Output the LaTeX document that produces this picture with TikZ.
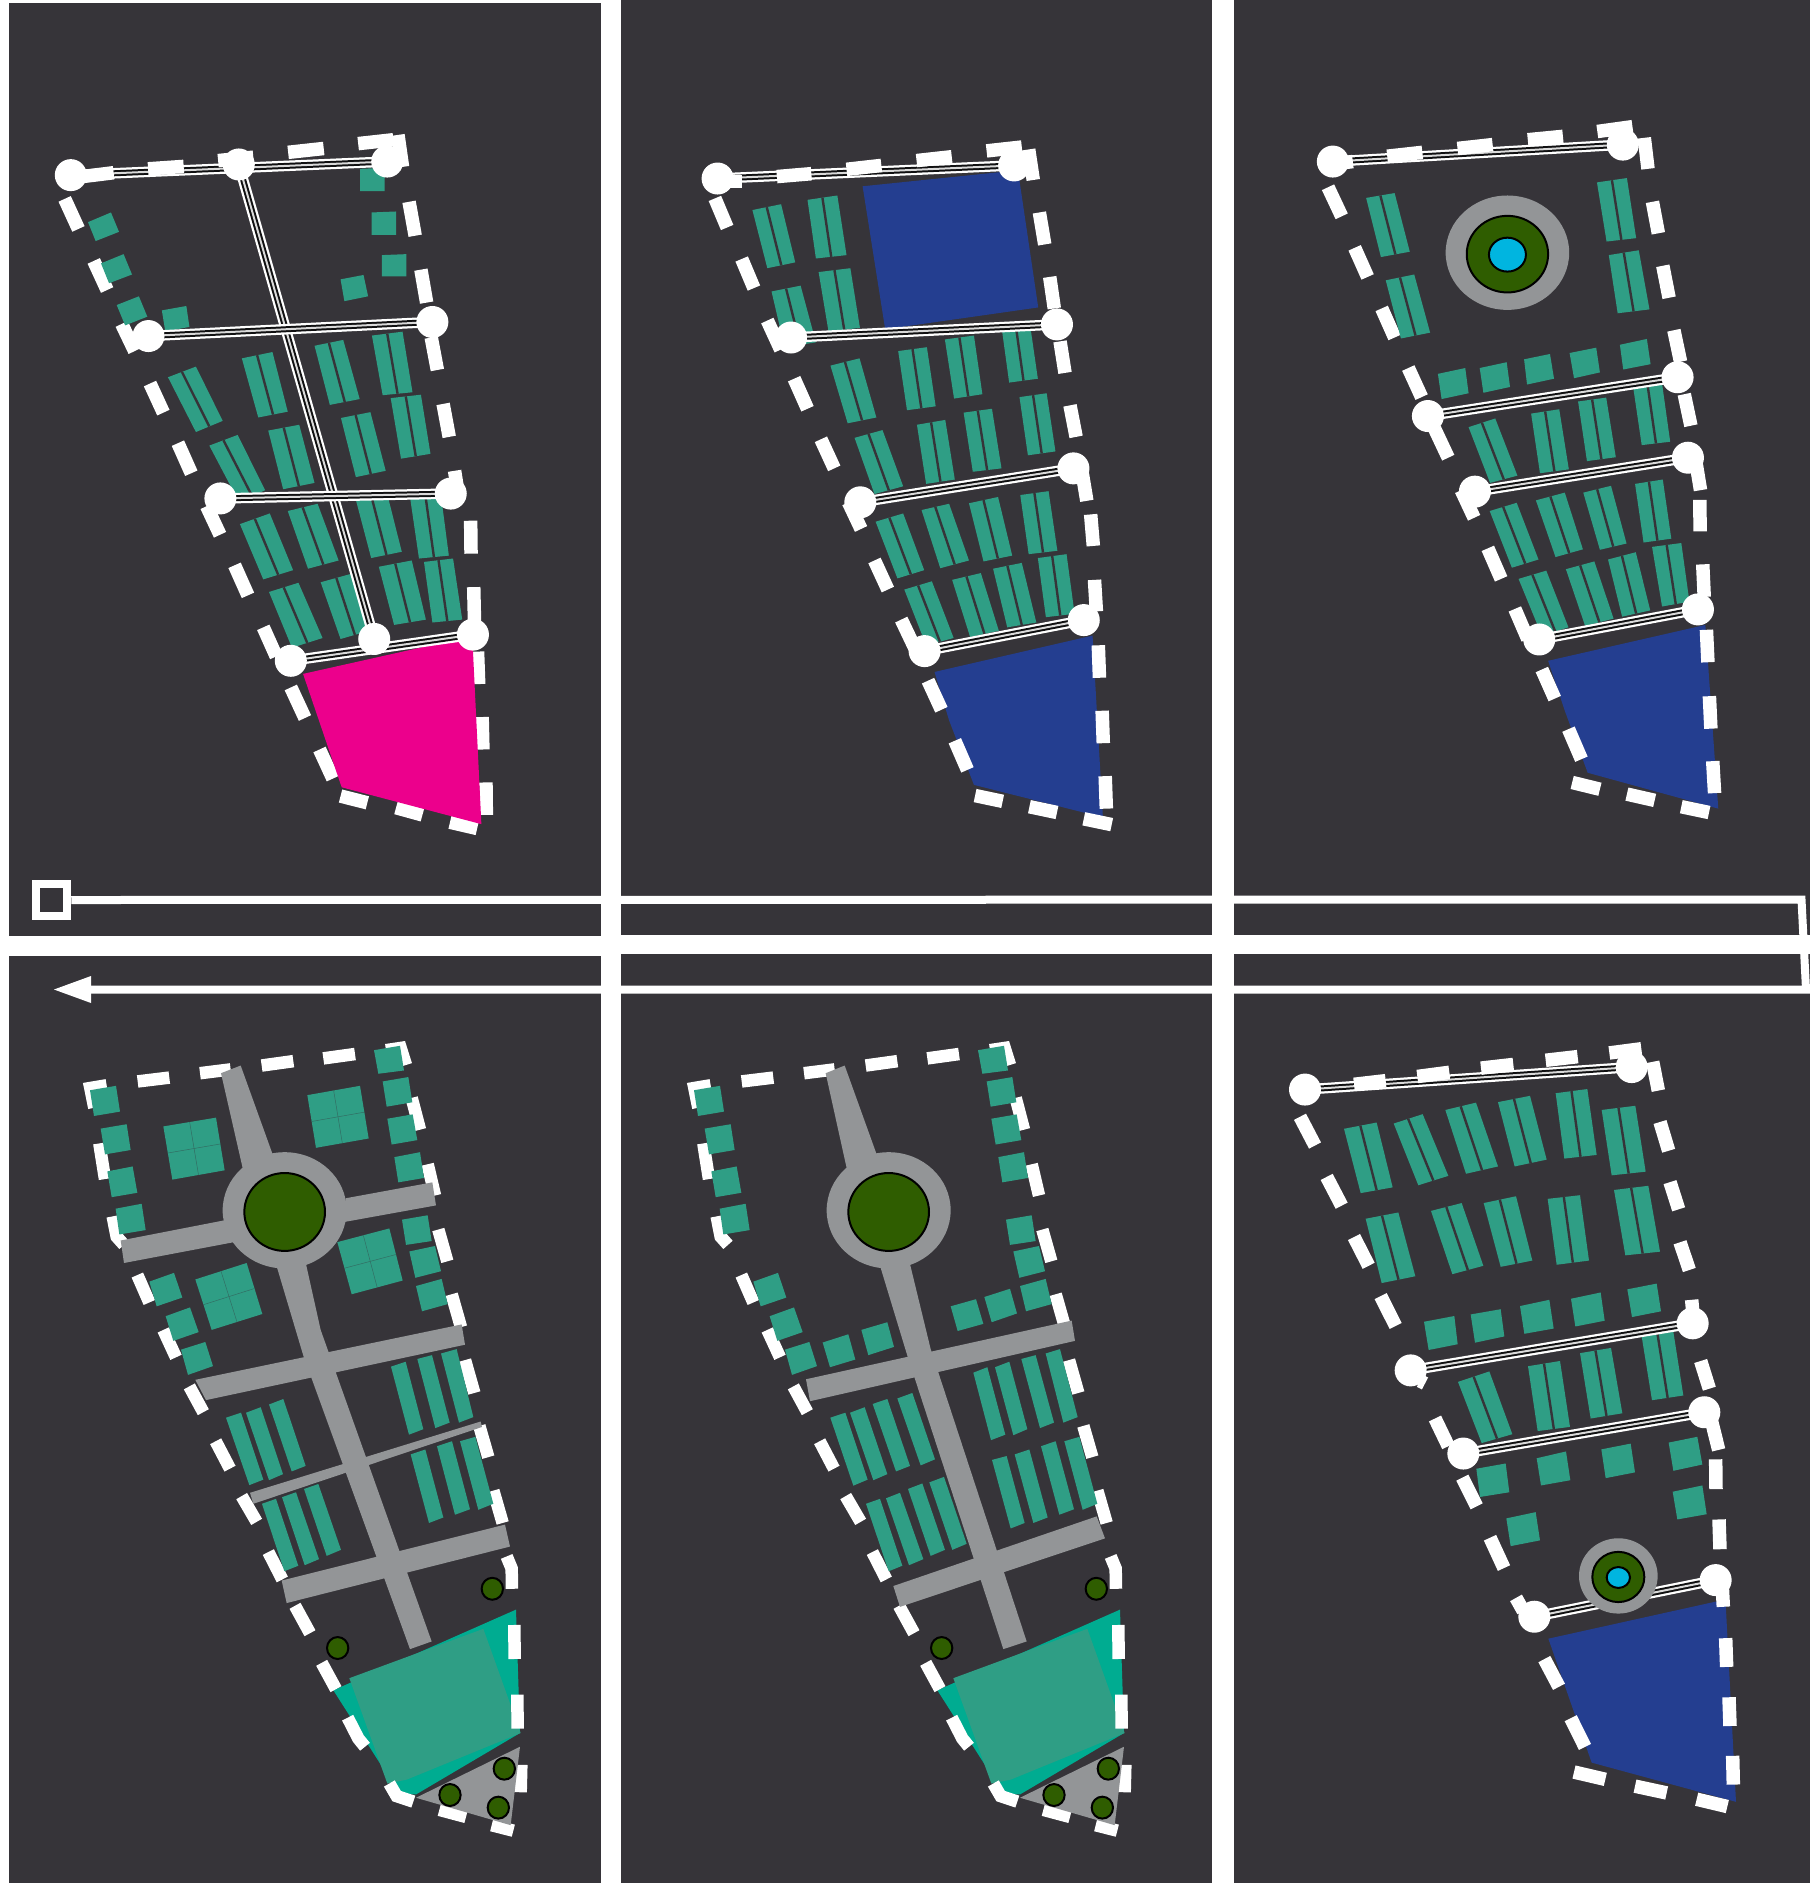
\documentclass[tikz,border=0pt]{standalone}
\usetikzlibrary{calc}
\definecolor{panelbg}{HTML}{363439}
\definecolor{lotc}{HTML}{2F9E85}
\definecolor{brightt}{HTML}{00AC91}
\definecolor{roadg}{HTML}{939597}
\definecolor{treeg}{HTML}{2F5D00}
\definecolor{cyanw}{HTML}{00B5E0}
\definecolor{blueb}{HTML}{243E90}
\definecolor{magentaa}{HTML}{EC008C}
\tikzset{
 wideview/.style={x=.38265pt,y=-.48469pt},
 thirdview/.style={x=.36990pt,y=-.48469pt},
 lowview/.style={x=.33333pt,y=-.54847pt},
 lastview/.style={x=.33333pt,y=-.52296pt},
 dashpiece/.style={draw=white,line width=13.5pt,line join=miter},
 lotfill/.style={fill=lotc},
 lotgap/.style={draw=panelbg,line width=2.4pt},
 lotseam/.style={draw=lotc!55!panelbg,line width=.5pt},
 roadouter/.style={draw=white,line width=10.5pt},
 roadmid/.style={draw=black!70!panelbg,line width=6pt},
 roadcore/.style={draw=white!85!black,line width=2pt},
 greyroad/.style={fill=roadg},
 treemark/.style={fill=treeg,draw=black,line width=2pt},
 watermark/.style={fill=cyanw,draw=black,line width=2pt},
}
\def\dsh(#1)(#2){\draw[dashpiece] (#1)--(#2);}
\def\lotS(#1)(#2)(#3)(#4){\fill[lotfill] (#1)--(#2)--(#3)--(#4)--cycle;}
\def\lotP(#1)(#2)(#3)(#4){\fill[lotfill] (#1)--(#2)--(#3)--(#4)--cycle;
  \draw[lotgap] ($(#1)!.5!(#2)$)--($(#4)!.5!(#3)$);}
\def\lotQ(#1)(#2)(#3)(#4){\fill[lotfill] (#1)--(#2)--(#3)--(#4)--cycle;
  \draw[lotseam] ($(#1)!.5!(#2)$)--($(#4)!.5!(#3)$);
  \draw[lotseam] ($(#1)!.5!(#4)$)--($(#2)!.5!(#3)$);}
\def\rdw(#1)(#2){\draw[roadouter] (#1)--(#2);\draw[roadmid] (#1)--(#2);\draw[roadcore] (#1)--(#2);}
\def\jun(#1){\fill[white] (#1) circle[radius=16pt];}
\def\tree(#1){\draw[treemark] (#1) ellipse[x radius=32,y radius=20];}
\newcommand{\sharedlow}{%
  \fill[brightt] (850,1222)--(1398,1075)--(1410,1300)--(1098,1412)--(1055,1412)--(1000,1365)--cycle;
  \fill[lotc] (898,1200)--(1300,1110)--(1412,1300)--(1070,1385)--(1012,1392)--cycle;
  \begin{scope}[dashpiece/.append style={line width=12.5pt}]
  \draw[dashpiece] (133,160)--(121,124)--(170,119);
  \dsh(263,112)(358,105)\dsh(450,97)(542,90)\dsh(635,83)(730,75)\dsh(820,70)(915,62)
  \draw[dashpiece] (1008,55)--(1052,51)--(1068,82);
  \dsh(1085,142)(1110,200)\dsh(1133,263)(1155,320)\dsh(1165,382)(1192,440)
  \dsh(1205,500)(1233,560)\dsh(1245,620)(1273,680)\dsh(1288,740)(1315,797)
  \dsh(1330,858)(1358,917)
  \draw[dashpiece] (1370,978)--(1385,1000)--(1386,1037);
  \dsh(1393,1103)(1394,1165)\dsh(1402,1230)(1403,1292)\dsh(1414,1358)(1412,1408)
  \dsh(1325,1468)(1390,1478)\dsh(1168,1440)(1248,1453)
  \dsh(148,225)(165,290)
  \draw[dashpiece] (188,358)--(200,395)--(222,410);
  \dsh(262,465)(298,515)\dsh(340,565)(378,615)\dsh(418,668)(460,715)
  \dsh(497,768)(540,818)\dsh(575,868)(620,915)\dsh(655,970)(697,1020)
  \dsh(735,1068)(780,1118)\dsh(815,1172)(858,1220)
  \draw[dashpiece] (893,1272)--(925,1310)--(945,1325);
  \draw[dashpiece] (1018,1392)--(1040,1415)--(1090,1425);
  \end{scope}
  \fill[roadg] (1098,1418)--(1410,1325)--(1382,1468)--cycle;
  \lotS(120,128)(198,120)(210,167)(132,175)
  \lotS(152,198)(230,190)(242,237)(165,245)
  \lotS(172,276)(248,267)(262,315)(185,323)
  \lotS(197,344)(275,335)(287,383)(208,391)
  \lotS(972,55)(1050,47)(1062,92)(985,98)
  \lotS(998,112)(1075,104)(1087,150)(1010,158)
  \lotS(1012,180)(1088,172)(1102,219)(1025,227)
  \lotS(1033,250)(1110,241)(1122,288)(1045,296)
  \lotS(1056,364)(1133,356)(1145,403)(1068,410)
  \lotS(1078,422)(1155,412)(1173,458)(1096,470)
  \lotS(1098,485)(1175,472)(1193,518)(1116,531)
  \lotS(298,477)(372,461)(397,506)(320,522)
  \lotS(347,540)(420,524)(446,569)(370,585)
  \lotS(393,601)(466,587)(489,631)(414,647)
  \tree(1327,1037)\tree(863,1145)\tree(1363,1365)\tree(1200,1413)\tree(1345,1436)
}
\begin{document}
\begin{tikzpicture}[x=1pt,y=-1pt]
\useasboundingbox (0,0) rectangle (1810,1883);
\fill[white] (0,0) rectangle (1810,1883);
\fill[panelbg] (9,2.5) rectangle (600.5,936);
\fill[panelbg] (621,0) rectangle (1212,934.5);
\fill[panelbg] (1233.5,0) rectangle (1810,934.5);
\fill[panelbg] (9,956) rectangle (600.5,1883);
\fill[panelbg] (621,954) rectangle (1212,1883);
\fill[panelbg] (1233.5,954) rectangle (1810,1883);
% ---- panel 1
\begin{scope}[shift={(0,100)},wideview]
 \coordinate (a1) at (185,155); \coordinate (b1) at (624,133); \coordinate (c1) at (1012,127);
 \coordinate (d1) at (388,487); \coordinate (e1) at (1130,458); \coordinate (f1) at (576,822);
 \coordinate (g1) at (1178,812); \coordinate (h1) at (760,1157); \coordinate (i1) at (978,1112);
 \coordinate (j1) at (1236,1103);
 \dsh(1040,72)(1052,138)
 \dsh(1069,210)(1085,280)\dsh(1100,350)(1115,418)\dsh(1127,490)(1143,557)\dsh(1158,627)(1174,695)
 \dsh(1188,765)(1195,800)\dsh(1230,868)(1231,936)\dsh(1238,1005)(1240,1075)\dsh(1248,1138)(1251,1205)
 \dsh(1260,1273)(1262,1340)\dsh(1270,1408)(1271,1475)
 \dsh(890,1436)(960,1450)\dsh(1035,1460)(1104,1475)\dsh(1176,1490)(1247,1503)
 \dsh(169,204)(205,266)\dsh(245,332)(280,392)\dsh(318,462)(352,518)\dsh(392,585)(427,645)
 \dsh(465,708)(500,770)\dsh(540,838)(575,897)\dsh(613,960)(648,1022)\dsh(688,1088)(722,1148)
 \dsh(760,1212)(797,1275)\dsh(835,1340)(870,1400)
 \fill[magentaa] (792,1184)--(1200,1112)--(1235,1120)--(1258,1494)--(893,1418)--cycle;
 \lotS(230,252)(290,232)(311,272)(250,291)
 \lotS(264,337)(323,318)(345,360)(285,378)
 \lotS(305,423)(363,405)(385,447)(327,465)
 \lotS(423,434)(487,425)(495,468)(432,478)
 \lotS(890,370)(950,361)(962,405)(900,415)
 \lotS(998,320)(1062,318)(1062,364)(998,364)
 \lotS(971,232)(1035,230)(1035,278)(971,278)
 \lotS(941,142)(1005,140)(1005,188)(941,188)
 \lotP(439,572)(512,550)(582,662)(512,685)
 \lotP(632,533)(712,520)(752,643)(675,655)
 \lotP(822,507)(897,495)(940,617)(862,629)
 \lotP(972,486)(1052,478)(1078,603)(1000,609)
 \lotP(1021,615)(1100,608)(1125,730)(1048,740)
 \lotP(891,656)(968,644)(1008,765)(930,778)
 \lotP(701,682)(782,670)(822,790)(740,803)
 \lotP(547,713)(621,691)(693,805)(625,830)
 \lotP(627,875)(705,853)(766,970)(688,989)
 \lotP(752,848)(830,833)(885,950)(805,967)
 \lotP(930,825)(1012,813)(1050,932)(970,945)
 \lotP(1072,822)(1152,813)(1173,940)(1095,946)
 \lotP(703,1015)(780,996)(843,1110)(763,1130)
 \lotP(838,995)(920,977)(965,1095)(890,1112)
 \lotP(990,963)(1076,950)(1113,1072)(1030,1083)
 \lotP(1108,953)(1184,946)(1208,1072)(1130,1078)
 \rdw(a1)(c1)\rdw(b1)(i1)\rdw(d1)(e1)\rdw(f1)(g1)\rdw(h1)(j1)
 \dsh(215,158)(297,150)\dsh(387,142)(480,137)\dsh(570,125)(662,118)\dsh(753,108)(846,100)\dsh(936,90)(1028,82)
 \jun(a1)\jun(b1)\jun(c1)\jun(d1)\jun(e1)\jun(f1)\jun(g1)\jun(h1)\jun(i1)\jun(j1)
\end{scope}
% ---- panel 2
\begin{scope}[shift={(620,100)},wideview]
 \coordinate (a2) at (255,162); \coordinate (b2) at (1030,135); \coordinate (c2) at (447,490);
 \coordinate (d2) at (1142,463); \coordinate (e2) at (628,830); \coordinate (f2) at (1185,760);
 \coordinate (g2) at (796,1137); \coordinate (h2) at (1212,1073);
 \fill[blueb] (634,178)--(1040,145)--(1093,428)--(693,473)--cycle;
 \fill[blueb] (822,1180)--(1235,1105)--(1262,1480)--(925,1413)--(860,1280)--cycle;
 \dsh(1068,102)(1080,165)
 \dsh(1096,232)(1110,298)\dsh(1123,365)(1135,430)\dsh(1150,498)(1163,563)\dsh(1176,630)(1192,695)
 \dsh(1207,765)(1220,827)\dsh(1230,855)(1237,920)\dsh(1240,990)(1245,1055)\dsh(1250,1125)(1253,1192)
 \dsh(1260,1260)(1263,1327)\dsh(1268,1395)(1271,1462)
 \dsh(928,1435)(1000,1447)\dsh(1070,1458)(1142,1470)\dsh(1212,1483)(1285,1495)
 \dsh(248,203)(280,263)\dsh(318,328)(350,388)\dsh(385,455)(420,515)\dsh(455,575)(490,637)
 \dsh(525,700)(560,760)\dsh(597,830)(630,885)\dsh(665,950)(700,1010)\dsh(735,1072)(770,1130)
 \dsh(805,1198)(840,1258)\dsh(875,1322)(908,1382)
 \lotP(346,227)(421,215)(458,335)(385,347)
 \lotP(490,206)(568,197)(592,320)(512,327)
 \lotP(396,395)(472,383)(512,500)(430,510)
 \lotP(519,355)(602,347)(627,470)(545,478)
 \lotP(996,462)(1070,455)(1092,575)(1017,583)
 \lotP(550,548)(626,533)(670,655)(595,667)
 \lotP(727,518)(802,510)(825,632)(750,640)
 \lotP(849,494)(925,486)(947,607)(873,616)
 \lotP(1044,613)(1115,605)(1138,725)(1066,733)
 \lotP(613,697)(686,681)(740,797)(665,813)
 \lotP(776,670)(850,660)(875,783)(800,792)
 \lotP(898,645)(972,637)(997,760)(922,767)
 \lotP(668,870)(740,853)(795,970)(725,987)
 \lotP(788,846)(860,833)(912,950)(837,966)
 \lotP(912,832)(988,819)(1025,940)(950,952)
 \lotP(1046,815)(1120,807)(1143,930)(1068,937)
 \lotP(743,1010)(815,993)(872,1110)(800,1125)
 \lotP(868,990)(943,976)(990,1095)(915,1108)
 \lotP(975,967)(1050,955)(1088,1078)(1012,1088)
 \lotP(1092,945)(1167,937)(1188,1060)(1113,1067)
 \rdw(a2)(b2)\rdw(c2)(d2)\rdw(e2)(f2)\rdw(g2)(h2)
 \dsh(255,168)(318,168)\dsh(410,158)(500,152)\dsh(592,143)(683,135)\dsh(775,125)(867,117)\dsh(958,105)(1050,97)
 \jun(a2)\jun(b2)\jun(c2)\jun(d2)\jun(e2)\jun(f2)\jun(g2)\jun(h2)
\end{scope}
% ---- panel 3
\begin{scope}[shift={(1230,100)},thirdview]
 \coordinate (a3) at (278,127); \coordinate (b3) at (1062,92); \coordinate (c3) at (535,652);
 \coordinate (d3) at (1210,572); \coordinate (e3) at (662,808); \coordinate (f3) at (1238,738);
 \coordinate (g3) at (836,1113); \coordinate (h3) at (1265,1051);
 \fill[blueb] (860,1157)--(1285,1083)--(1320,1462)--(967,1388)--(905,1260)--cycle;
 \dsh(1120,78)(1130,142)
 \dsh(1142,210)(1158,275)\dsh(1170,342)(1187,408)\dsh(1200,475)(1218,540)\dsh(1228,607)(1246,672)
 \dsh(1258,740)(1272,805)\dsh(1270,825)(1271,890)\dsh(1278,958)(1282,1025)\dsh(1288,1093)(1292,1160)
 \dsh(1296,1230)(1300,1297)\dsh(1305,1364)(1310,1430)
 \dsh(925,1408)(1000,1422)\dsh(1073,1432)(1148,1445)\dsh(1220,1458)(1295,1470)
 \dsh(265,180)(302,240)\dsh(337,305)(372,365)\dsh(410,430)(445,490)\dsh(482,553)(518,613)
 \dsh(553,678)(590,738)\dsh(625,805)(660,862)\dsh(697,925)(733,988)\dsh(770,1050)(805,1112)
 \dsh(843,1175)(878,1235)\dsh(915,1298)(950,1360)
 \lotP(368,202)(445,192)(486,313)(408,324)
 \lotP(421,372)(498,360)(541,480)(462,492)
 \lotP(992,170)(1073,161)(1098,285)(1018,292)
 \lotP(1024,320)(1105,310)(1134,432)(1048,440)
 \lotS(562,565)(636,553)(645,605)(572,617)
 \lotS(675,553)(748,541)(757,592)(685,604)
 \lotS(795,535)(865,524)(876,575)(803,587)
 \lotS(918,522)(990,511)(1000,562)(930,574)
 \lotS(1054,505)(1127,493)(1137,545)(1063,556)
 \lotP(645,675)(717,657)(777,775)(703,790)
 \lotP(814,647)(890,638)(916,762)(838,770)
 \lotP(941,622)(1017,614)(1043,737)(965,745)
 \lotP(1090,593)(1168,585)(1190,705)(1113,712)
 \lotP(702,848)(775,831)(834,948)(762,965)
 \lotP(827,826)(905,810)(954,927)(880,943)
 \lotP(955,810)(1030,796)(1072,915)(1000,928)
 \lotP(1095,792)(1170,783)(1193,905)(1118,913)
 \lotP(780,988)(855,971)(915,1088)(843,1105)
 \lotP(908,968)(985,952)(1037,1070)(960,1085)
 \lotP(1022,948)(1097,933)(1136,1053)(1060,1066)
 \lotP(1141,922)(1220,914)(1242,1035)(1168,1045)
 \rdw(a3)(b3)\rdw(c3)(d3)\rdw(e3)(f3)\rdw(g3)(h3)
 \dsh(278,132)(332,127)\dsh(425,116)(520,108)\dsh(615,100)(710,92)\dsh(805,82)(900,75)\dsh(993,65)(1088,55)
 \jun(a3)\jun(b3)\jun(c3)\jun(d3)\jun(e3)\jun(f3)\jun(g3)\jun(h3)
 \fill[roadg] (750,315) ellipse[x radius=167,y radius=118];
 \draw[treemark] (750,318) ellipse[x radius=110,y radius=79];
 \draw[watermark] (750,319) ellipse[x radius=50,y radius=35];
\end{scope}
% ---- panel 4
\begin{scope}[shift={(50,1020)},lowview]
 \sharedlow
 \fill[greyroad] (212,402)--(525,365)--(552,405)--(222,443)--cycle;
 \fill[greyroad] (887,325)--(1147,296)--(1158,338)--(885,368)--cycle;
 \fill[greyroad] (513,97)--(572,83)--(668,245)--(600,300)--(578,270)--cycle;
 \fill[greyroad] (678,445)--(768,445)--(812,565)--(1145,1133)--(1080,1147)--(760,612)--cycle;
 \fill[greyroad] (436,656)--(1235,555)--(1245,592)--(468,693)--cycle;
 \fill[greyroad] (600,862)--(1292,732)--(1296,742)--(610,882)--cycle;
 \fill[greyroad] (695,1022)--(1365,920)--(1380,960)--(710,1063)--cycle;
 \fill[greyroad] (704,347) ellipse[x radius=186,y radius=106];
 \draw[treemark] (704,350) ellipse[x radius=121,y radius=71];
 \lotQ(340,194)(498,178)(524,274)(367,291)
 \lotQ(772,137)(930,120)(956,216)(798,233)
 \lotQ(436,473)(590,443)(637,536)(485,565)
 \lotQ(862,405)(1018,380)(1058,475)(905,500)
 \lotS(528,725)(573,716)(640,838)(598,848)
 \lotS(588,716)(632,706)(699,828)(657,839)
 \lotS(657,701)(700,691)(767,813)(725,823)
 \lotS(1023,632)(1067,623)(1120,746)(1077,756)
 \lotS(1102,618)(1146,611)(1199,734)(1156,744)
 \lotS(1173,608)(1220,600)(1270,724)(1227,734)
 \lotS(636,882)(678,873)(745,995)(703,1005)
 \lotS(696,870)(738,861)(807,983)(764,994)
 \lotS(762,855)(805,846)(873,966)(830,977)
 \lotS(1082,792)(1126,783)(1180,907)(1137,917)
 \lotS(1161,777)(1206,768)(1260,892)(1215,902)
 \lotS(1230,768)(1276,760)(1330,882)(1285,893)
\end{scope}
% ---- panel 5
\begin{scope}[shift={(654,1020)},lowview]
 \sharedlow
\end{scope}
\begin{scope}[shift={(660,1020)},lowview]
 \fill[greyroad] (497,97)--(554,83)--(650,245)--(582,300)--(560,270)--cycle;
 \fill[greyroad] (660,448)--(750,445)--(812,600)--(1100,1133)--(1030,1147)--(742,612)--cycle;
 \fill[greyroad] (438,655)--(1235,548)--(1245,585)--(450,695)--cycle;
 \fill[greyroad] (700,1032)--(1310,905)--(1335,945)--(720,1070)--cycle;
 \fill[greyroad] (686,347) ellipse[x radius=186,y radius=106];
 \draw[treemark] (686,350) ellipse[x radius=121,y radius=71];
 \lotS(872,522)(948,509)(970,554)(893,567)
 \lotS(973,505)(1050,490)(1071,535)(995,551)
 \lotS(604,565)(682,551)(702,596)(625,611)
 \lotS(488,588)(565,573)(586,619)(510,633)
 \lotS(511,725)(556,716)(623,838)(580,849)
 \lotS(570,716)(614,706)(682,828)(640,839)
 \lotS(638,700)(682,691)(750,813)(708,823)
 \lotS(712,690)(757,680)(825,801)(782,812)
 \lotS(940,643)(982,633)(1036,756)(993,766)
 \lotS(1005,633)(1048,623)(1102,746)(1060,757)
 \lotS(1084,618)(1127,611)(1182,734)(1140,744)
 \lotS(1157,608)(1200,600)(1253,724)(1210,734)
 \lotS(618,882)(660,873)(727,995)(686,1005)
 \lotS(678,872)(720,862)(790,983)(747,994)
 \lotS(744,855)(787,845)(855,966)(812,977)
 \lotS(808,843)(852,833)(920,955)(877,966)
 \lotS(996,802)(1040,795)(1094,917)(1052,927)
 \lotS(1064,792)(1108,783)(1163,907)(1120,917)
 \lotS(1143,777)(1187,768)(1242,892)(1198,902)
 \lotS(1213,768)(1258,760)(1312,882)(1268,893)
\end{scope}
% ---- panel 6
\begin{scope}[shift={(1260,1020)},lastview]
 \coordinate (a6) at (135,133); \coordinate (b6) at (1115,90); \coordinate (c6) at (452,670);
 \coordinate (d6) at (1298,580); \coordinate (e6) at (610,829); \coordinate (f6) at (1333,750);
 \coordinate (g6) at (823,1141); \coordinate (h6) at (1367,1071);
 \fill[blueb] (865,1183)--(1368,1112)--(1397,1115)--(1428,1495)--(995,1420)--cycle;
 \dsh(1178,80)(1195,135)
 \dsh(1200,195)(1226,250)\dsh(1230,310)(1256,362)\dsh(1260,425)(1288,478)\dsh(1295,535)(1303,590)
 \dsh(1322,652)(1348,705)\dsh(1352,760)(1376,822)\dsh(1367,840)(1368,897)\dsh(1377,955)(1380,1012)
 \dsh(1385,1060)(1390,1122)\dsh(1397,1182)(1400,1237)\dsh(1407,1295)(1410,1350)\dsh(1418,1407)(1420,1462)
 \dsh(942,1438)(1036,1452)\dsh(1125,1465)(1220,1478)\dsh(1310,1490)(1402,1504)
 \dsh(120,185)(165,240)\dsh(200,300)(245,355)\dsh(282,415)(326,470)\dsh(362,528)(407,585)
 \dsh(480,690)(495,695)\dsh(525,762)(565,815)\dsh(607,875)(650,930)\dsh(690,990)(732,1048)
 \dsh(768,1105)(790,1130)\dsh(853,1222)(897,1275)\dsh(932,1335)(975,1390)
 \lotP(252,208)(350,196)(398,320)(302,331)
 \lotP(401,198)(488,180)(565,298)(475,316)
 \lotP(556,172)(648,158)(714,280)(618,294)
 \lotP(714,157)(810,145)(860,267)(764,280)
 \lotP(887,140)(982,132)(1010,258)(913,265)
 \lotP(1025,172)(1126,164)(1157,290)(1055,297)
 \lotP(317,380)(415,368)(466,490)(365,503)
 \lotP(513,365)(605,350)(670,470)(577,486)
 \lotP(671,350)(768,337)(817,460)(722,472)
 \lotP(863,342)(960,335)(987,460)(890,468)
 \lotP(1062,325)(1165,317)(1200,443)(1096,450)
 \lotS(492,577)(583,566)(593,620)(506,631)
 \lotS(632,563)(722,553)(733,605)(645,617)
 \lotS(780,547)(868,535)(881,590)(793,600)
 \lotS(933,533)(1022,521)(1034,575)(946,586)
 \lotS(1102,515)(1190,504)(1203,557)(1116,568)
 \lotP(594,692)(688,672)(757,792)(665,809)
 \lotP(804,662)(900,652)(930,778)(833,786)
 \lotP(960,637)(1053,627)(1087,752)(992,762)
 \lotP(1145,605)(1240,596)(1270,718)(1176,727)
 \lotS(649,858)(737,848)(748,903)(660,912)
 \lotS(830,838)(918,825)(931,880)(843,890)
 \lotS(1024,821)(1112,810)(1125,865)(1037,876)
 \lotS(1226,808)(1312,797)(1327,850)(1240,862)
 \lotS(1238,902)(1327,890)(1340,945)(1252,955)
 \lotS(739,953)(827,941)(840,995)(752,1006)
 \rdw(a6)(b6)\rdw(c6)(d6)\rdw(e6)(f6)\rdw(g6)(h6)
 \dsh(282,123)(377,116)\dsh(472,108)(568,100)\dsh(663,92)(760,85)\dsh(857,77)(953,70)\dsh(1048,63)(1144,55)
 \jun(a6)\jun(b6)\jun(c6)\jun(d6)\jun(e6)\jun(f6)\jun(g6)\jun(h6)
 \fill[roadg] (1075,1063) ellipse[x radius=118,y radius=72];
 \draw[treemark] (1075,1065) ellipse[x radius=78,y radius=48];
 \draw[watermark] (1075,1066) ellipse[x radius=35,y radius=20];
\end{scope}
% ---- route line
\node (startbox) [draw=white,line width=8pt,minimum size=31.5pt,inner sep=0pt,fill=none] at (51.5,900) {};
\coordinate (bendtop) at (1801.5,899.5);
\coordinate (bendlow) at (1806,989.5);
\coordinate (arrowbase) at (90,989.5);
\coordinate (arrowtip) at (54,989.5);
\draw[white,line width=8pt,line join=miter] (startbox.east)--(bendtop)--(bendlow)--(arrowbase);
\fill[white] (arrowtip)--(91,976)--(91,1003)--cycle;
\end{tikzpicture}
\end{document}
